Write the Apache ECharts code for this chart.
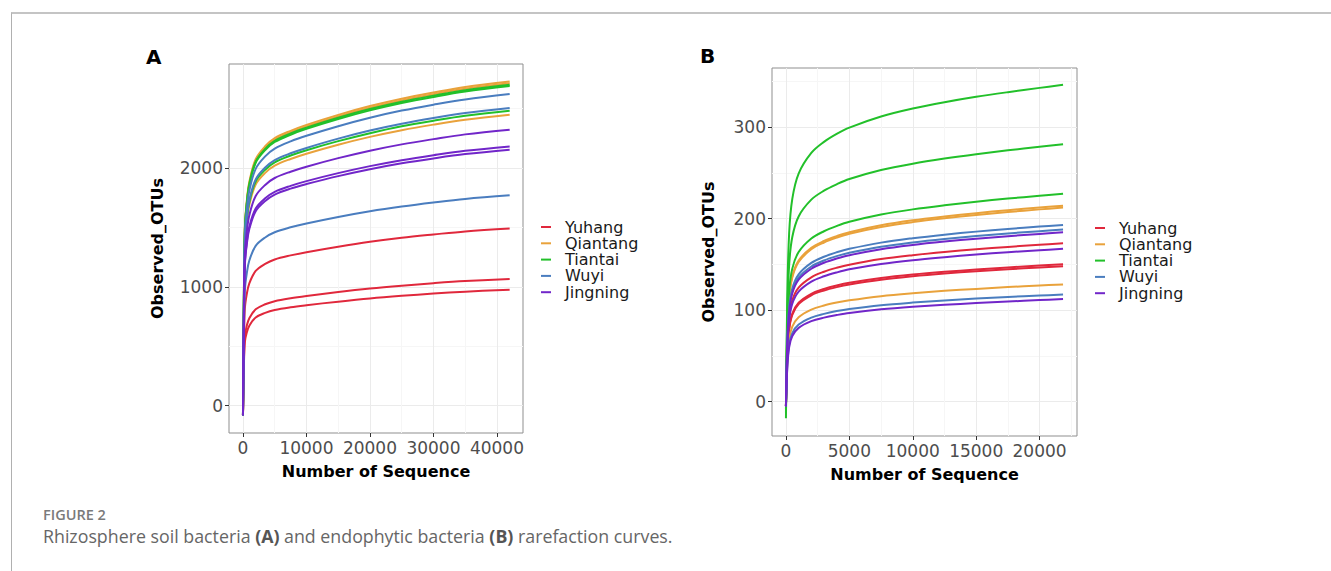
<!DOCTYPE html>
<html>
<head>
<meta charset="utf-8">
<title>Rarefaction curves</title>
<script src="https://cdn.jsdelivr.net/npm/echarts@6/dist/echarts.min.js"></script>
<style>
  html, body { margin: 0; padding: 0; background: #fff; }
  .page { position: relative; width: 1331px; height: 571px; overflow: hidden; }
  .frame { position: absolute; left: 11px; top: 12px; right: -2px; bottom: -2px;
           border-top: 2px solid #c4c4c4; border-left: 1px solid #b0b0b0; }
  #chart { position: absolute; left: 0; top: 0; width: 1331px; height: 571px; }
  .figLabel { position: absolute; left: 43px; top: 508px; font: 600 14.5px/14px "Open Sans", sans-serif;
              color: #7a7a7a; }
  .caption { position: absolute; left: 43px; top: 527px; font: 400 17.8px/19px "Open Sans", sans-serif;
             color: #666; white-space: nowrap; }
  .caption b { font-weight: 700; color: #555; }
</style>
</head>
<body>
<div class="page">
  <div class="frame"></div>
  <div id="chart"></div>
  <div class="figLabel">FIGURE 2</div>
  <div class="caption">Rhizosphere soil bacteria <b>(A)</b> and endophytic bacteria <b>(B)</b> rarefaction curves.</div>
</div>

<script>
  // sampling depths (x) for each panel
  const xA = [0, 150, 300, 600, 1000, 2000, 3500, 5000, 7500, 10000, 15000, 20000, 25000, 30000, 35000, 42000]
  const xB = [0, 100, 250, 500, 1000, 2000, 3000, 4000, 5000, 7500, 10000, 12500, 15000, 17500, 20000, 21850]

  const groups = ["Yuhang", "Qiantang", "Tiantai", "Wuyi", "Jingning"]

  // tick labels / grid breaks
  const xTicksA = [0, 10000, 20000, 30000, 40000]
  const xMinorA = [5000, 15000, 25000, 35000]
  const yTicksA = [0, 1000, 2000]
  const yMinorA = [500, 1500, 2500]
  const xTicksB = [0, 5000, 10000, 15000, 20000]
  const xMinorB = [2500, 7500, 12500, 17500, 22500]
  const yTicksB = [0, 100, 200, 300]
  const yMinorB = [50, 150, 250, 350]

  // panel A : rhizosphere soil bacteria
  const yuhangA1 = [-80, 522, 820, 939, 1029, 1133, 1193, 1230, 1264, 1291, 1337, 1378, 1412, 1440, 1466, 1491]
  const yuhangA2 = [-80, 373, 586, 672, 736, 810, 853, 879, 904, 923, 956, 985, 1009, 1030, 1048, 1066]
  const yuhangA3 = [-80, 342, 537, 615, 673, 742, 781, 805, 828, 845, 875, 902, 924, 943, 959, 976]
  const qiantangA1 = [-80, 954, 1500, 1718, 1882, 2073, 2182, 2250, 2312, 2362, 2446, 2520, 2582, 2634, 2681, 2727]
  const qiantangA2 = [-80, 856, 1346, 1542, 1688, 1860, 1958, 2019, 2075, 2119, 2195, 2261, 2317, 2364, 2405, 2447]
  const qiantangA3 = [-80, 949, 1492, 1709, 1871, 2061, 2170, 2237, 2300, 2349, 2433, 2506, 2568, 2620, 2666, 2712]
  const tiantaiA1 = [-80, 945, 1485, 1701, 1863, 2052, 2160, 2228, 2290, 2338, 2422, 2495, 2557, 2608, 2654, 2700]
  const tiantaiA2 = [-80, 941, 1478, 1693, 1855, 2043, 2150, 2218, 2279, 2328, 2411, 2484, 2546, 2597, 2642, 2688]
  const tiantaiA3 = [-80, 868, 1365, 1563, 1712, 1886, 1985, 2047, 2104, 2149, 2225, 2292, 2350, 2397, 2439, 2481]
  const wuyiA1 = [-80, 917, 1442, 1651, 1808, 1992, 2097, 2162, 2223, 2270, 2351, 2422, 2482, 2532, 2576, 2621]
  const wuyiA2 = [-80, 876, 1377, 1578, 1728, 1903, 2003, 2066, 2123, 2168, 2246, 2314, 2371, 2419, 2461, 2504]
  const wuyiA3 = [-80, 619, 973, 1114, 1221, 1344, 1415, 1459, 1500, 1532, 1587, 1635, 1675, 1709, 1739, 1769]
  const jingningA1 = [-80, 812, 1277, 1462, 1601, 1764, 1857, 1915, 1968, 2010, 2082, 2145, 2198, 2242, 2282, 2321]
  const jingningA2 = [-80, 763, 1200, 1374, 1505, 1658, 1745, 1799, 1849, 1889, 1956, 2015, 2065, 2107, 2144, 2181]
  const jingningA3 = [-80, 754, 1184, 1356, 1486, 1636, 1722, 1776, 1826, 1864, 1931, 1989, 2039, 2080, 2116, 2153]

  // panel B : endophytic bacteria
  const yuhangB1 = [-5, 55.4, 91.7, 110.7, 124.6, 135.8, 141.9, 146.2, 149.6, 155.7, 160.0, 163.5, 166.4, 169.0, 171.4, 173]
  const yuhangB2 = [-5, 48.0, 79.5, 96.0, 108.0, 117.8, 123.0, 126.8, 129.8, 135.0, 138.8, 141.8, 144.3, 146.6, 148.6, 150]
  const yuhangB3 = [-5, 47.4, 78.4, 94.7, 106.6, 116.2, 121.4, 125.1, 128.0, 133.2, 136.9, 139.9, 142.4, 144.6, 146.6, 148]
  const qiantangB1 = [-5, 68.5, 113.4, 137.0, 154.1, 168.0, 175.5, 180.8, 185.1, 192.6, 198.0, 202.2, 205.9, 209.1, 212.0, 214]
  const qiantangB2 = [-5, 67.8, 112.4, 135.7, 152.6, 166.4, 173.8, 179.1, 183.4, 190.8, 196.1, 200.3, 203.9, 207.1, 210.0, 212]
  const qiantangB3 = [-5, 41.0, 67.8, 81.9, 92.2, 100.5, 105.0, 108.2, 110.7, 115.2, 118.4, 121.0, 123.1, 125.1, 126.8, 128]
  const tiantaiB1 = [-18, 110.7, 183.4, 221.4, 249.1, 271.6, 283.7, 292.4, 299.3, 311.4, 320.1, 327.0, 332.9, 338.0, 342.7, 346]
  const tiantaiB2 = [-12, 89.9, 148.9, 179.8, 202.3, 220.6, 230.4, 237.4, 243.1, 252.9, 259.9, 265.5, 270.3, 274.5, 278.3, 281]
  const tiantaiB3 = [-8, 72.6, 120.3, 145.3, 163.4, 178.2, 186.1, 191.8, 196.4, 204.3, 210.0, 214.5, 218.4, 221.8, 224.8, 227]
  const wuyiB1 = [-5, 61.8, 102.3, 123.5, 139.0, 151.5, 158.3, 163.1, 166.9, 173.7, 178.5, 182.4, 185.7, 188.6, 191.2, 193]
  const wuyiB2 = [-5, 60.2, 99.6, 120.3, 135.4, 147.6, 154.2, 158.9, 162.6, 169.2, 173.9, 177.7, 180.9, 183.7, 186.2, 188]
  const wuyiB3 = [-5, 37.4, 62.0, 74.9, 84.2, 91.8, 95.9, 98.9, 101.2, 105.3, 108.2, 110.6, 112.6, 114.3, 115.9, 117]
  const jingningB1 = [-5, 59.2, 98.1, 118.4, 133.2, 145.2, 151.7, 156.3, 160.0, 166.5, 171.1, 174.8, 178.0, 180.7, 183.2, 185]
  const jingningB2 = [-5, 53.4, 88.5, 106.9, 120.2, 131.1, 136.9, 141.1, 144.5, 150.3, 154.5, 157.8, 160.7, 163.2, 165.4, 167]
  const jingningB3 = [-5, 35.8, 59.4, 71.7, 80.6, 87.9, 91.8, 94.6, 96.9, 100.8, 103.6, 105.8, 107.7, 109.4, 110.9, 112]

  const curvesA = {
    Yuhang: [yuhangA1, yuhangA2, yuhangA3],
    Qiantang: [qiantangA1, qiantangA2, qiantangA3],
    Tiantai: [tiantaiA1, tiantaiA2, tiantaiA3],
    Wuyi: [wuyiA1, wuyiA2, wuyiA3],
    Jingning: [jingningA1, jingningA2, jingningA3]
  }
  const curvesB = {
    Yuhang: [yuhangB1, yuhangB2, yuhangB3],
    Qiantang: [qiantangB1, qiantangB2, qiantangB3],
    Tiantai: [tiantaiB1, tiantaiB2, tiantaiB3],
    Wuyi: [wuyiB1, wuyiB2, wuyiB3],
    Jingning: [jingningB1, jingningB2, jingningB3]
  }

  const groupColor = {
    Yuhang: "#E0283C",
    Qiantang: "#E9A23B",
    Tiantai: "#22C02A",
    Wuyi: "#4A7DBF",
    Jingning: "#7126C9"
  }

  const FONT = "DejaVu Sans"
  const MAJOR = "#EBEBEB"
  const MINOR = "#F6F6F6"

  const _lineSeries = (name, xs, ys, axisIdx) => ({
    type: "line",
    name: name,
    xAxisIndex: axisIdx,
    yAxisIndex: axisIdx,
    data: xs.map((x, i) => [x, ys[i]]),
    showSymbol: false,
    symbol: "none",
    smooth: 0.35,
    color: groupColor[name],
    lineStyle: { width: 2, color: groupColor[name] },
    emphasis: { disabled: true }
  })

  const series = []
  groups.forEach(g => {
    curvesA[g].forEach(ys => series.push(_lineSeries(g, xA, ys, 0)))
    curvesB[g].forEach(ys => series.push(_lineSeries(g, xB, ys, 2)))
  })

  const plainNumber = v => String(Math.round(v))

  // main axis: labels, ticks, major grid
  const _majorX = (grid, min, max, ticks, nameGap) => ({
    type: "value", gridIndex: grid, min: min, max: max, position: "bottom",
    name: "Number of Sequence", nameLocation: "middle", nameGap: nameGap,
    nameTextStyle: { fontFamily: FONT, fontSize: 16, fontWeight: "bold", color: "#000" },
    axisLine: { show: false, onZero: false },
    axisTick: { show: true, length: 4, customValues: ticks, lineStyle: { color: "#333" } },
    axisLabel: { customValues: ticks, formatter: plainNumber, margin: 6, fontFamily: FONT, fontSize: 17, color: "#4D4D4D" },
    splitLine: { show: true, lineStyle: { color: MAJOR, width: 1 } }
  })
  const _majorY = (grid, min, max, ticks, nameGap) => ({
    type: "value", gridIndex: grid, min: min, max: max, position: "left",
    name: "Observed_OTUs", nameLocation: "middle", nameGap: nameGap, nameRotate: 90,
    nameTextStyle: { fontFamily: FONT, fontSize: 16, fontWeight: "bold", color: "#000" },
    axisLine: { show: false, onZero: false },
    axisTick: { show: true, length: 4, customValues: ticks, lineStyle: { color: "#333" } },
    axisLabel: { customValues: ticks, formatter: plainNumber, margin: 6, fontFamily: FONT, fontSize: 17, color: "#4D4D4D" },
    splitLine: { show: true, lineStyle: { color: MAJOR, width: 1 } }
  })
  // helper axis: minor grid only
  const _minor = (grid, min, max, ticks) => ({
    type: "value", gridIndex: grid, min: min, max: max,
    axisLine: { show: false, onZero: false },
    axisTick: { show: false, customValues: ticks },
    axisLabel: { show: false, customValues: ticks },
    splitLine: { show: true, lineStyle: { color: MINOR, width: 1 } }
  })

  const legendText = { fontFamily: FONT, fontSize: 16, color: "#1A1A1A", lineHeight: 16, padding: [0, 0, 0, 9] }

  const chart = echarts.init(document.getElementById("chart"), null, { renderer: "svg" })

  chart.setOption({
    animation: false,
    backgroundColor: "transparent",
    title: [
      { text: "A", left: 146, top: 47, padding: 0,
        textStyle: { fontFamily: FONT, fontSize: 20, fontWeight: "bold", color: "#000" } },
      { text: "B", left: 700, top: 46, padding: 0,
        textStyle: { fontFamily: FONT, fontSize: 20, fontWeight: "bold", color: "#000" } }
    ],
    legend: [
      { data: groups, orient: "vertical", left: 541, top: 219, padding: 0, itemGap: 0.3,
        icon: "rect", itemWidth: 10, itemHeight: 2, selectedMode: false, textStyle: legendText },
      { data: groups, orient: "vertical", left: 1095, top: 220, padding: 0, itemGap: 0.3,
        icon: "rect", itemWidth: 10, itemHeight: 2, selectedMode: false, textStyle: legendText }
    ],
    grid: [
      { left: 229, top: 64, width: 294, height: 369, show: true, borderColor: "#8F8F8F", borderWidth: 1, backgroundColor: "#fff" },
      { left: 772, top: 68, width: 305, height: 368, show: true, borderColor: "#8F8F8F", borderWidth: 1, backgroundColor: "#fff" }
    ],
    xAxis: [
      _majorX(0, -2200, 44100, xTicksA, 30),
      _minor(0, -2200, 44100, xMinorA),
      _majorX(1, -1100, 22950, xTicksB, 30),
      _minor(1, -1100, 22950, xMinorB)
    ],
    yAxis: [
      _majorY(0, -230, 2874, yTicksA, 64),
      _minor(0, -230, 2874, yMinorA),
      _majorY(1, -37.5, 364.4, yTicksB, 56),
      _minor(1, -37.5, 364.4, yMinorB)
    ],
    series: series
  })

  window.addEventListener("resize", () => {
    chart && chart.resize()
  })
</script>
</body>
</html>
